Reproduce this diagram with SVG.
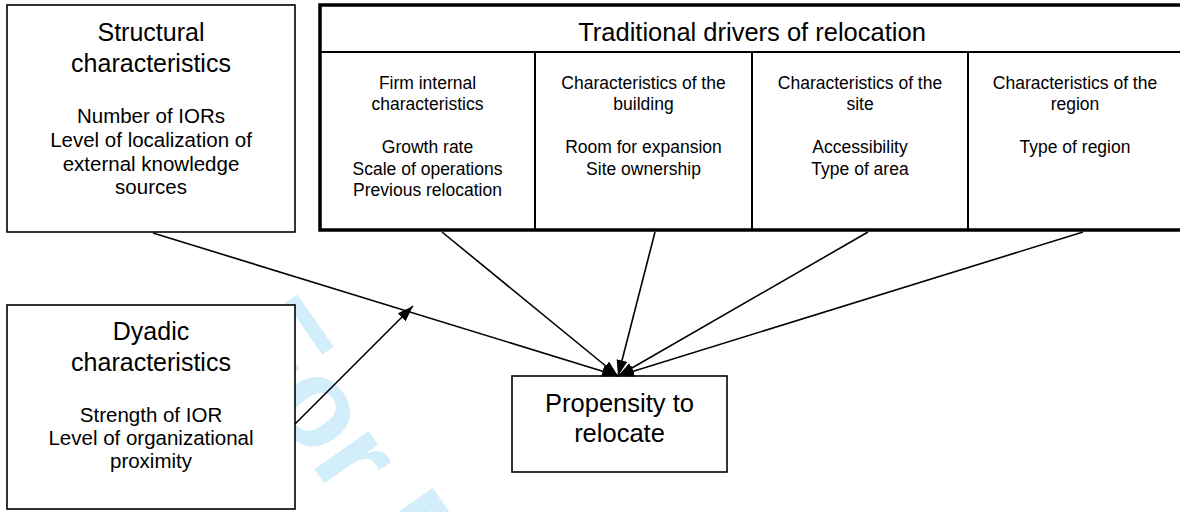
<svg xmlns="http://www.w3.org/2000/svg" width="1180" height="512" viewBox="0 0 1180 512">
  <style>
    text { font-family: "Liberation Sans", Arial, Helvetica, sans-serif; fill: #000; text-anchor: middle; }
    .box { fill: #fff; stroke: #000; stroke-width: 1.6; }
    .outer { fill: #fff; stroke: #000; stroke-width: 3.5; }
    .div { stroke: #000; stroke-width: 2; fill: none; }
    .title { font-size: 25px; }
    .detail { font-size: 20.5px; }
    .cell { font-size: 17.5px; }
    .conn { stroke: #000; stroke-width: 1.6; fill: none; marker-end: url(#arrow); }
    .wm { font-family: "Liberation Sans", Arial, sans-serif; font-weight: bold; font-size: 125px; fill: #d2eefb; text-anchor: start; }
  </style>
  <defs>
    <marker id="arrow" markerUnits="userSpaceOnUse" markerWidth="17" markerHeight="12" refX="16" refY="5.5" orient="auto">
      <path d="M0,0 L16,5.5 L0,11 z" fill="#000"/>
    </marker>
  </defs>

  <text class="wm" transform="translate(222 337) rotate(55)">For Peer Review</text>

  <g id="structural">
    <rect class="box" x="7" y="5" width="288" height="227"/>
    <text class="title" x="151" y="41">Structural</text>
    <text class="title" x="151" y="72">characteristics</text>
    <text class="detail" x="151" y="123">Number of IORs</text>
    <text class="detail" x="151" y="147">Level of localization of</text>
    <text class="detail" x="151" y="171">external knowledge</text>
    <text class="detail" x="151" y="194">sources</text>
  </g>

  <g id="dyadic">
    <rect class="box" x="7" y="305" width="288" height="204"/>
    <text class="title" x="151" y="340">Dyadic</text>
    <text class="title" x="151" y="371">characteristics</text>
    <text class="detail" x="151" y="422">Strength of IOR</text>
    <text class="detail" x="151" y="445">Level of organizational</text>
    <text class="detail" x="151" y="468">proximity</text>
  </g>

  <g id="traditional">
    <rect class="outer" x="320" y="5" width="863" height="225"/>
    <line class="div" x1="320" y1="52" x2="1183" y2="52"/>
    <line class="div" x1="535" y1="52" x2="535" y2="230"/>
    <line class="div" x1="752" y1="52" x2="752" y2="230"/>
    <line class="div" x1="968" y1="52" x2="968" y2="230"/>
    <text class="title" x="752" y="41" style="font-size:25.5px">Traditional drivers of relocation</text>
  </g>

  <g id="firm">
    <text class="cell" x="427.5" y="89">Firm internal</text>
    <text class="cell" x="427.5" y="110">characteristics</text>
    <text class="cell" x="427.5" y="153">Growth rate</text>
    <text class="cell" x="427.5" y="174.5">Scale of operations</text>
    <text class="cell" x="427.5" y="196">Previous relocation</text>
  </g>

  <g id="building">
    <text class="cell" x="643.5" y="89">Characteristics of the</text>
    <text class="cell" x="643.5" y="110">building</text>
    <text class="cell" x="643.5" y="153">Room for expansion</text>
    <text class="cell" x="643.5" y="174.5">Site ownership</text>
  </g>

  <g id="site">
    <text class="cell" x="860" y="89">Characteristics of the</text>
    <text class="cell" x="860" y="110">site</text>
    <text class="cell" x="860" y="153">Accessibility</text>
    <text class="cell" x="860" y="174.5">Type of area</text>
  </g>

  <g id="region">
    <text class="cell" x="1075" y="89">Characteristics of the</text>
    <text class="cell" x="1075" y="110">region</text>
    <text class="cell" x="1075" y="153">Type of region</text>
  </g>

  <g id="propensity">
    <rect class="box" x="512" y="376" width="215" height="96"/>
    <text class="title" x="619.5" y="412" style="font-size:25.5px">Propensity to</text>
    <text class="title" x="619.5" y="442" style="font-size:25.5px">relocate</text>
  </g>

  <g id="connectors">
    <line class="conn" x1="153" y1="233" x2="618" y2="376"/>
    <line class="conn" x1="295" y1="424" x2="413" y2="306"/>
    <line class="conn" x1="442" y1="232" x2="618" y2="376"/>
    <line class="conn" x1="655" y1="232" x2="618" y2="376"/>
    <line class="conn" x1="868" y1="232" x2="618" y2="376"/>
    <line class="conn" x1="1083" y1="232" x2="618" y2="376"/>
  </g>
</svg>
